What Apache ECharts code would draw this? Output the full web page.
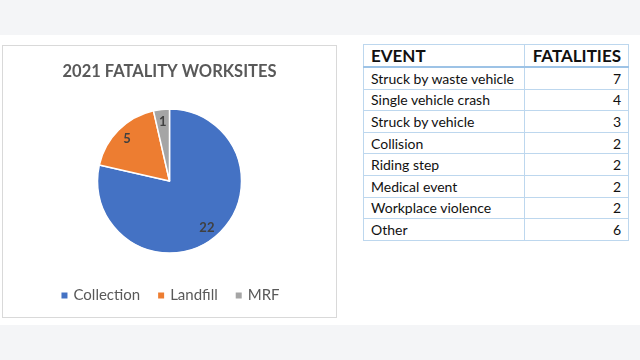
<!DOCTYPE html>
<html>
<head>
<meta charset="utf-8">
<script src="https://cdn.jsdelivr.net/npm/echarts@6/dist/echarts.min.js"></script>
<style>
  html, body { margin: 0; padding: 0; }
  body { width: 640px; height: 360px; background: #f4f5f7; position: relative; overflow: hidden; font-family: Lato, "Open Sans", sans-serif; }
  #band { position: absolute; left: 0; top: 35px; width: 640px; height: 290px; background: #fff; }
  #box { position: absolute; left: 2px; top: 45px; width: 335px; height: 273px; border: 1px solid #d9d9d9; box-sizing: border-box; }
  #main { position: absolute; left: 3px; top: 46px; width: 333px; height: 271px; }
  #tbl { position: absolute; left: 363px; top: 44px; border-collapse: collapse; }
  #tbl td, #tbl th { border: 1px solid #bdd7ee; padding: 0 7px; height: 20.6px; font-size: 14px; color: #111; white-space: nowrap; }
  #tbl th { font-size: 17px; font-weight: bold; height: 21px; border-bottom: 2px solid #9dc3e6; text-align: left; }
  #tbl th.num, #tbl td.num { text-align: right; }
  #tbl .c1 { width: 146px; }
  #tbl .c2 { width: 89px; }
</style>
</head>
<body>
<div id="band"></div>
<div id="box"></div>
<div id="main"></div>
<table id="tbl"></table>
<script>
// pie data
var sites = ['Collection', 'Landfill', 'MRF'];
var siteCounts = [22, 5, 1];
var siteColors = ['#4472c4', '#ed7d31', '#a5a5a5'];

// table data
var events = ['Struck by waste vehicle', 'Single vehicle crash', 'Struck by vehicle', 'Collision', 'Riding step', 'Medical event', 'Workplace violence', 'Other'];
var fatalities = [7, 4, 3, 2, 2, 2, 2, 6];

// build the table
var html = '<tr><th class="c1">EVENT</th><th class="c2 num">FATALITIES</th></tr>';
for (var i = 0; i < events.length; i++) {
  html += '<tr><td class="c1">' + events[i] + '</td><td class="c2 num">' + fatalities[i] + '</td></tr>';
}
document.getElementById('tbl').innerHTML = html;

var chart = echarts.init(document.getElementById('main'), null, { renderer: 'canvas' });

var pieData = sites.map(function (s, i) {
  return { name: s, value: siteCounts[i], itemStyle: { color: siteColors[i] } };
});
// same values, only used to put the labels near the outer edge
var labelData = sites.map(function (s, i) {
  return { name: s, value: siteCounts[i] };
});

var option = {
  animation: false,
  title: {
    text: '2021 FATALITY WORKSITES',
    left: 'center',
    top: 12,
    textStyle: { fontFamily: 'Lato', fontSize: 16.5, fontWeight: 'bold', color: '#595959' }
  },
  legend: {
    data: sites,
    bottom: 9,
    left: 'center',
    icon: 'rect',
    itemWidth: 8,
    itemHeight: 8,
    itemGap: 16,
    textStyle: { fontFamily: 'Lato', fontSize: 15, color: '#595959' }
  },
  series: [{
    type: 'pie',
    center: ['50%', 135],
    radius: [0, 72],
    startAngle: 90,
    clockwise: true,
    label: { show: false },
    labelLine: { show: false },
    itemStyle: { borderColor: '#fff', borderWidth: 1.5 },
    data: pieData
  }, {
    type: 'pie',
    silent: true,
    center: ['50%', 135],
    radius: [42, 72],
    startAngle: 90,
    clockwise: true,
    itemStyle: { color: 'rgba(0,0,0,0)' },
    label: {
      show: true,
      position: 'inside',
      formatter: '{c}',
      fontFamily: 'Lato',
      fontSize: 13,
      fontWeight: 'bold',
      color: '#404040'
    },
    labelLine: { show: false },
    data: labelData
  }]
};

chart.setOption(option);
</script>
</body>
</html>
